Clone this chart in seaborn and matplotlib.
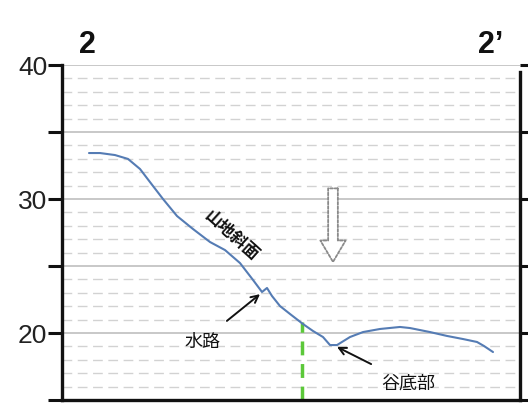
import numpy as np
import pandas as pd
import matplotlib
matplotlib.use("Agg")
import matplotlib.pyplot as plt
import seaborn as sns
from matplotlib.patches import FancyArrowPatch

# Cross-section profile 2-2' : horizontal distance (m) and elevation (m)
distance = [27, 38, 53, 66, 78, 91, 101, 115, 131, 148, 163, 178, 191, 200, 205,
            210, 218, 228, 241, 251, 261, 268, 275, 288, 301, 318, 338, 348, 368,
            385, 401, 415, 422, 431]
elevation = [33.43, 33.43, 33.28, 32.99, 32.24, 30.97, 30.00, 28.73, 27.76, 26.79,
             26.19, 25.22, 23.96, 23.06, 23.36, 22.76, 22.01, 21.42, 20.67, 20.15,
             19.70, 19.10, 19.10, 19.70, 20.07, 20.30, 20.45, 20.37, 20.07, 19.78,
             19.55, 19.33, 19.03, 18.58]

y_ticks = [15, 20, 25, 30, 35, 40]
y_tick_labels = ["", "20", "", "30", "", "40"]

section_start, section_end = "2", "2’"
slope_label, channel_label, valley_label = "山地斜面", "水路", "谷底部"
boundary_x, boundary_top = 240, 20.8
arrow_x, arrow_top, arrow_tip = 271, 31.0, 25.1

sns.set_theme(style="white")
plt.rcParams["font.family"] = ["Noto Sans CJK JP", "DejaVu Sans"]

fig = plt.figure(figsize=(5.28, 4.06), dpi=100)
ax = fig.add_axes([62 / 528, 5 / 406, 458 / 528, 335 / 406])

# horizontal guide lines: solid every 5 m, dashed every 1 m
for v in range(16, 41):
    if v % 5 == 0:
        ax.axhline(v, color="#c4c4c4", lw=1.3, zorder=0)
    else:
        ax.axhline(v, color="#d2d2d2", lw=1.0, ls=(0, (7, 4)), zorder=0)

df = pd.DataFrame({"distance": distance, "elevation": elevation})
sns.lineplot(data=df, x="distance", y="elevation", ax=ax, color="#557cb4",
             lw=1.5, sort=False, zorder=3)

# boundary between slope and valley floor
ax.plot([boundary_x, boundary_x], [15, boundary_top], color="#5cc83a",
        lw=2.5, ls=(0, (4, 2.5)), zorder=2)

ax.set_xlim(0, 458)
ax.set_ylim(15, 40)
ax.set_yticks(y_ticks)
ax.set_yticklabels(y_tick_labels, family="Liberation Sans", fontsize=19,
                   color="#222222")
ax.set_xticks([])
ax.set_xlabel("")
ax.set_ylabel("")

for side in ["left", "bottom", "right"]:
    ax.spines[side].set_visible(True)
    ax.spines[side].set_color("#111111")
    ax.spines[side].set_linewidth(2.4)
ax.spines["top"].set_visible(False)
ax.spines["right"].set_bounds(15, 39.5)
ax.tick_params(axis="y", which="major", direction="out", length=10, width=2.2,
               color="#111111", left=True, right=True, pad=0.5)

# section end labels
ax.text(25, 41.6, section_start, family="Liberation Sans", fontweight="bold",
        fontsize=22, ha="center", va="center", color="#111111")
ax.text(429, 41.6, section_end, family="Liberation Sans", fontweight="bold",
        fontsize=22, ha="center", va="center", color="#111111")

# annotations
ax.text(169, 27.3, slope_label, rotation=-42, fontsize=12, ha="center",
        va="center", color="#111111", fontweight="bold")
ax.annotate(channel_label, xy=(198, 22.9), xytext=(140, 19.4), fontsize=13,
            ha="center", va="center", color="#111111",
            arrowprops=dict(arrowstyle="->", color="#111111", lw=1.4,
                            shrinkA=9, shrinkB=0))
ax.annotate(valley_label, xy=(275, 18.96), xytext=(346, 16.3), fontsize=13,
            ha="center", va="center", color="#111111",
            arrowprops=dict(arrowstyle="->", color="#111111", lw=1.4,
                            shrinkA=10, shrinkB=0))

# hollow downward arrow
down = FancyArrowPatch((arrow_x, arrow_top), (arrow_x, arrow_tip),
                       arrowstyle="simple,head_length=1.1,head_width=1.3,tail_width=0.5",
                       mutation_scale=14, fc="white", ec="#8a8a8a", lw=1.3,
                       ls=(0, (1.5, 1)), zorder=4)
ax.add_patch(down)

fig.savefig("out.png", dpi=100)
